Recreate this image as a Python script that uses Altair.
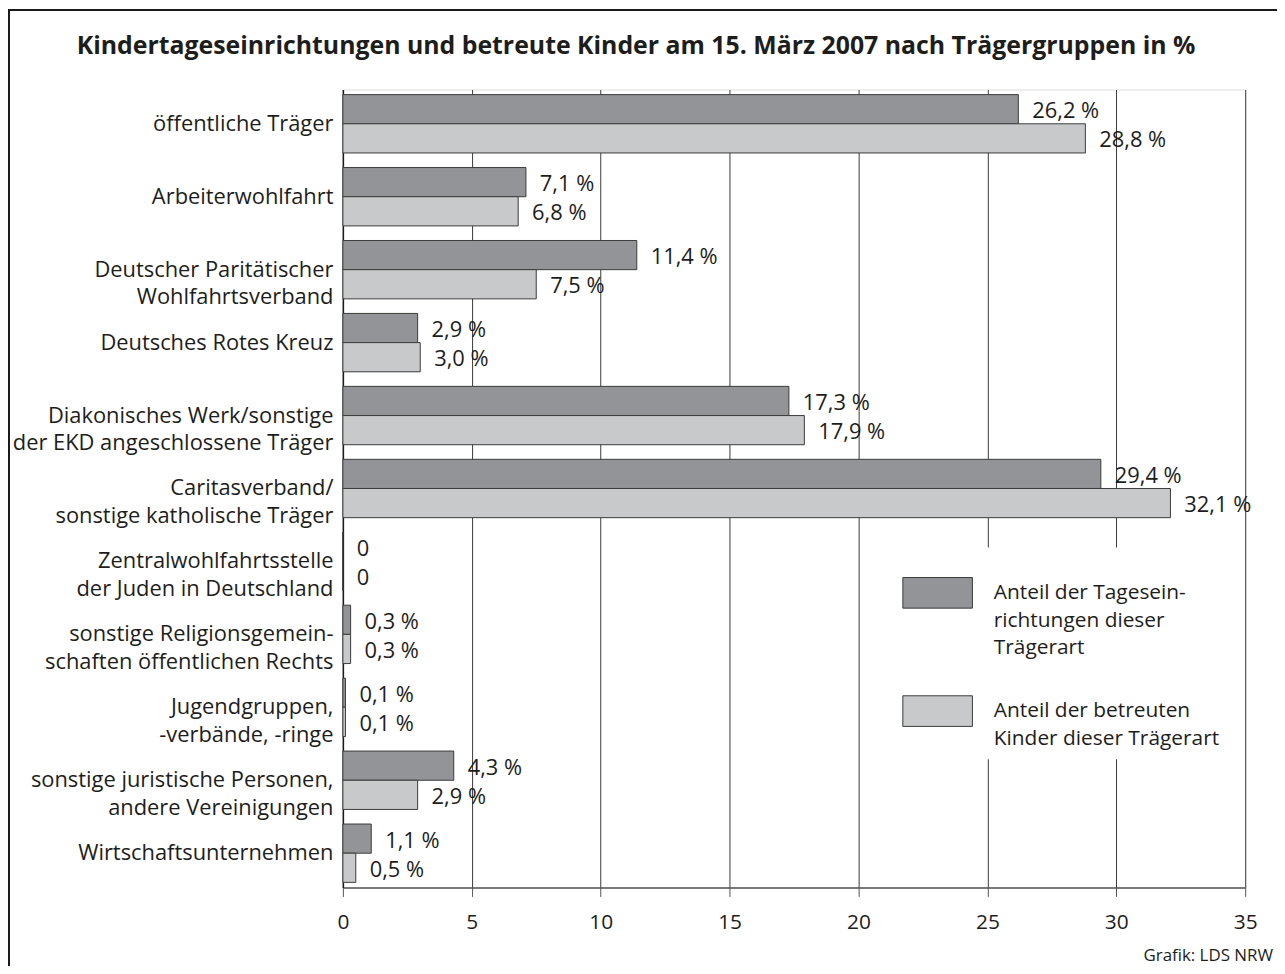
import altair as alt
import pandas as pd

title_text = "Kindertageseinrichtungen und betreute Kinder am 15. März 2007 nach Trägergruppen in %"
source_text = "Grafik: LDS NRW"
categories = [
    "öffentliche Träger",
    "Arbeiterwohlfahrt",
    "Deutscher Paritätischer|Wohlfahrtsverband",
    "Deutsches Rotes Kreuz",
    "Diakonisches Werk/sonstige|der EKD angeschlossene Träger",
    "Caritasverband/|sonstige katholische Träger",
    "Zentralwohlfahrtsstelle|der Juden in Deutschland",
    "sonstige Religionsgemein-|schaften öffentlichen Rechts",
    "Jugendgruppen,|-verbände, -ringe",
    "sonstige juristische Personen,|andere Vereinigungen",
    "Wirtschaftsunternehmen",
]
einrichtungen = [26.2, 7.1, 11.4, 2.9, 17.3, 29.4, 0, 0.3, 0.1, 4.3, 1.1]
kinder = [28.8, 6.8, 7.5, 3.0, 17.9, 32.1, 0, 0.3, 0.1, 2.9, 0.5]
series = [
    "Anteil der Tagesein-|richtungen dieser|Trägerart",
    "Anteil der betreuten|Kinder dieser Trägerart",
]
colors = ["#939497", "#c8c9cb"]
x_ticks = [0, 5, 10, 15, 20, 25, 30, 35]

rows = []
for s, vals in zip(series, [einrichtungen, kinder]):
    for c, v in zip(categories, vals):
        lab = "0" if v == 0 else f"{v:.1f}".replace(".", ",") + " %"
        rows.append({"Träger": c, "Reihe": s, "Wert": v, "Label": lab})
df = pd.DataFrame(rows)

FONT = "Open Sans"
TXT = "#1d1d1b"
FS = 21
W, H = 908, 803

y_enc = alt.Y(
    "Träger:N",
    sort=categories,
    scale=alt.Scale(paddingInner=0.2, paddingOuter=0.07),
    axis=alt.Axis(
        title=None,
        labelExpr="split(datum.label, '|')",
        labelFontSize=22,
        labelLineHeight=28,
        labelPadding=10,
        labelLimit=500,
        ticks=False,
        domainColor="#1a1a1a",
        domainWidth=1.5,
        labelColor=TXT,
        labelFont=FONT,
    ),
)
x_enc = alt.X(
    "Wert:Q",
    scale=alt.Scale(domain=[0, 35], nice=False),
    axis=alt.Axis(
        title=None,
        values=x_ticks,
        grid=True,
        gridColor="#3a3a3a",
        gridWidth=1,
        tickSize=9,
        tickColor="#555555",
        domainColor="#555555",
        domainWidth=1.5,
        labelFontSize=FS,
        labelPadding=15,
        labelFlush=False,
        labelColor=TXT,
        labelFont=FONT,
    ),
)
yoff = alt.YOffset("Reihe:N", sort=series, scale=alt.Scale(paddingInner=0, paddingOuter=0))

bars = alt.Chart(df).mark_bar(stroke="#3a3a3a", strokeWidth=1).encode(
    x=x_enc,
    y=y_enc,
    yOffset=yoff,
    color=alt.Color(
        "Reihe:N",
        sort=series,
        scale=alt.Scale(domain=series, range=colors),
        legend=alt.Legend(
            orient="none",
            legendX=553,
            legendY=461,
            title=None,
            padding=10,
            fillColor="white",
            symbolType="M-1,-0.44L1,-0.44L1,0.44L-1,0.44Z",
            symbolSize=4900,
            symbolStrokeColor="#3a3a3a",
            symbolStrokeWidth=1,
            symbolOpacity=1,
            labelExpr="split(datum.label, '|')",
            labelFontSize=FS,
            labelOffset=21,
            labelFont=FONT,
            labelColor=TXT,
            labelLimit=400,
            labelBaseline="middle",
            rowPadding=17,
        ),
    ),
)

labels = alt.Chart(df).mark_text(
    align="left", baseline="middle", dx=14, dy=2, fontSize=22, font=FONT, color=TXT
).encode(
    x="Wert:Q",
    y=alt.Y("Träger:N", sort=categories),
    yOffset=alt.YOffset("Reihe:N", sort=series),
    text="Label:N",
)

frame = alt.Chart(alt.Data(values=[{}])).mark_rect(
    fill=None, stroke="#1a1a1a", strokeWidth=2
).encode(
    x=alt.value(-336), x2=alt.value(1000), y=alt.value(-80), y2=alt.value(1000)
)

title = alt.Chart(alt.Data(values=[{"t": title_text}])).mark_text(
    align="center", baseline="alphabetic", fontSize=25, fontWeight="bold", font=FONT, color=TXT
).encode(x=alt.value(295), y=alt.value(-36), text="t:N")

source = alt.Chart(alt.Data(values=[{"t": source_text}])).mark_text(
    align="right", baseline="alphabetic", fontSize=17, font=FONT, color=TXT
).encode(x=alt.value(936), y=alt.value(877), text="t:N")

chart = (
    alt.layer(bars, labels, frame, title, source)
    .properties(
        width=W,
        height=H,
        padding={"left": 337, "top": 79, "right": 32, "bottom": 76},
        autosize=alt.AutoSizeParams(type="none"),
    )
    .configure_view(stroke=None)
    .configure(style={"guide-label": {"lineHeight": 28}})
)

chart.save("out.html", embed_options={"renderer": "svg", "actions": False})
